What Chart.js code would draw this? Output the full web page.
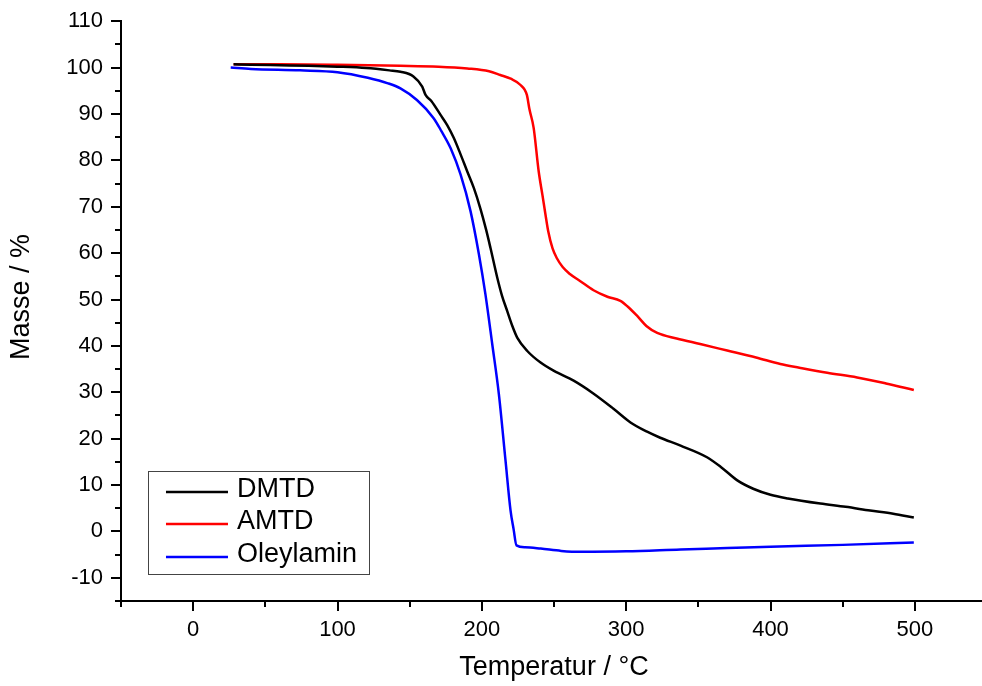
<!DOCTYPE html>
<html>
<head>
<meta charset="utf-8">
<script src="https://cdn.jsdelivr.net/npm/chart.js@4"></script>
<style>
  html, body { margin: 0; padding: 0; background: #fff; overflow: hidden; }
  #wrap { width: 993px; height: 686px; }
</style>
</head>
<body>
<div id="wrap"><canvas id="c" width="993" height="686"></canvas></div>
<script>
// ---- data ----
const seriesNames = ["DMTD", "AMTD", "Oleylamin"];
const seriesColors = ["#000000", "#ff0000", "#0000ff"];

const dmtdT = [28, 40, 60, 80, 100, 120, 136, 143.6, 152.6, 158.7, 161, 165, 171.4, 176, 180.6, 185, 189.9, 194.5, 199.1, 203, 206, 210.7, 214, 217.6, 221, 224.5, 231.5, 240.7, 250, 263.6, 277, 291, 303, 314.5, 323.6, 337.7, 356, 366, 377, 388, 400, 412, 434.5, 452, 469, 485, 499.3];
const dmtdM = [100.7, 100.6, 100.5, 100.4, 100.2, 99.9, 99.4, 99.1, 98.1, 95.9, 94.1, 92.8, 89.8, 87.6, 84.8, 81.5, 77.6, 74.0, 69.5, 65.0, 61.1, 54.7, 50.8, 47.5, 44.4, 41.8, 38.9, 36.4, 34.6, 32.5, 29.8, 26.5, 23.5, 21.5, 20.2, 18.5, 16, 13.8, 11, 9.2, 7.9, 7.1, 6.0, 5.3, 4.5, 3.8, 3.0];

const amtdT = [28, 60, 100, 143.6, 170, 190, 205, 212.8, 220, 226.6, 231.2, 233, 235.9, 239.4, 242, 244, 246, 249, 252, 256, 261, 268, 277.4, 287, 296, 301, 307.5, 314, 321.5, 335, 351.3, 370, 390, 406.8, 420, 439.3, 460, 480, 499.3];
const amtdM = [100.7, 100.7, 100.6, 100.4, 100.2, 99.8, 99.2, 98.4, 97.6, 96.3, 94.1, 91, 87.0, 77.6, 72.5, 68.5, 64.7, 61, 58.9, 57, 55.5, 54, 52, 50.6, 49.7, 48.5, 46.5, 44.3, 42.8, 41.6, 40.4, 39, 37.5, 36.1, 35.3, 34.2, 33.2, 31.9, 30.5];

const oleT = [26, 40, 74, 100, 121, 135, 143.6, 155, 166.6, 172, 178.4, 185.3, 192.2, 198, 202.5, 207.2, 211.8, 216.4, 219.9, 222, 224, 230, 240.8, 255, 268.5, 300, 337.7, 370, 400, 450, 499.3];
const oleM = [100, 99.7, 99.4, 99.0, 97.8, 96.6, 95.5, 93.0, 89.1, 86.3, 82.6, 76.9, 69.0, 59.7, 51.1, 40.4, 29.6, 15.3, 4.5, 0.5, -3.0, -3.4, -3.7, -4.2, -4.4, -4.3, -3.9, -3.6, -3.3, -2.9, -2.4];

const xTitle = "Temperatur / °C";
const yTitle = "Masse / %";
const xMin = -50, xMax = 550, xMinor = 50, xMajor = 100;
const yMin = -15, yMax = 110, yMinor = 5, yMajor = 10;

// ---- build ----
const FONT = "'Liberation Sans', Arial, Helvetica, sans-serif";
function pts(t, m) { return t.map((v, i) => ({ x: v, y: m[i] })); }
const allT = [dmtdT, amtdT, oleT];
const allM = [dmtdM, amtdM, oleM];

const datasets = seriesNames.map((n, i) => ({
  label: n,
  data: pts(allT[i], allM[i]),
  borderColor: seriesColors[i],
  backgroundColor: seriesColors[i],
  borderWidth: 2.5,
  pointRadius: 0,
  fill: false,
  cubicInterpolationMode: 'monotone'
}));

const extras = {
  id: 'extras',
  afterDraw(chart) {
    const ctx = chart.ctx;
    const xs = chart.scales.x, ys = chart.scales.y;
    const ca = chart.chartArea;
    ctx.save();
    ctx.strokeStyle = '#000';
    ctx.lineWidth = 2;
    // x ticks
    for (let v = xMin; v <= xMax + 1e-9; v += xMinor) {
      const px = Math.round(xs.getPixelForValue(v));
      const len = (v % xMajor === 0) ? 10 : 6;
      ctx.beginPath();
      ctx.moveTo(px, ca.bottom);
      ctx.lineTo(px, ca.bottom + len);
      ctx.stroke();
    }
    // y ticks
    for (let v = yMin; v <= yMax + 1e-9; v += yMinor) {
      const py = Math.round(ys.getPixelForValue(v));
      const len = (v % yMajor === 0) ? 10 : 6;
      ctx.beginPath();
      ctx.moveTo(ca.left, py);
      ctx.lineTo(ca.left - len, py);
      ctx.stroke();
    }
    // y title
    ctx.fillStyle = '#000';
    ctx.font = '27px ' + FONT;
    ctx.textAlign = 'center';
    ctx.textBaseline = 'middle';
    ctx.translate(22, 297);
    ctx.rotate(-Math.PI / 2);
    ctx.fillText(yTitle, 0, 0);
    ctx.restore();

    // legend (placed in data units of the axes)
    ctx.save();
    const lx = xs.getPixelForValue(-31.3), rx = xs.getPixelForValue(121.9);
    const ty = ys.getPixelForValue(13.1), by = ys.getPixelForValue(-9.0);
    ctx.strokeStyle = '#444';
    ctx.lineWidth = 1;
    ctx.strokeRect(Math.round(lx) + 0.5, Math.round(ty) + 0.5, Math.round(rx - lx), Math.round(by - ty));
    ctx.font = '27px ' + FONT;
    ctx.textAlign = 'left';
    ctx.textBaseline = 'middle';
    chart.data.datasets.forEach((d, i) => {
      const cy = Math.round(ty + 21 + i * 32.5);
      ctx.strokeStyle = d.borderColor;
      ctx.lineWidth = 2.5;
      ctx.beginPath();
      ctx.moveTo(lx + 18, cy);
      ctx.lineTo(lx + 80, cy);
      ctx.stroke();
      ctx.fillStyle = '#000';
      ctx.fillText(d.label, lx + 89, cy - 2);
    });
    ctx.restore();
  }
};

new Chart(document.getElementById('c'), {
  type: 'line',
  data: { datasets },
  plugins: [extras],
  options: {
    responsive: false,
    animation: false,
    events: [],
    layout: { padding: { top: 20, right: 1, left: 0, bottom: 0 } },
    plugins: { legend: { display: false }, tooltip: { enabled: false } },
    scales: {
      x: {
        type: 'linear',
        min: xMin, max: xMax,
        afterFit(s) { s.height = 85; },
        ticks: {
          stepSize: xMinor, autoSkip: false, maxRotation: 0, padding: 6,
          color: '#000', font: { family: FONT, size: 22 },
          callback: v => (v % xMajor === 0 ? String(v) : '')
        },
        grid: { drawOnChartArea: false, tickLength: 10, tickColor: 'rgba(0,0,0,0)' },
        border: { display: true, color: '#000', width: 2 },
        title: { display: true, text: xTitle, color: '#000', font: { family: FONT, size: 27 }, padding: { top: 0, bottom: 2 } }
      },
      y: {
        type: 'linear',
        min: yMin, max: yMax,
        afterFit(s) { s.width = 121; },
        ticks: {
          stepSize: yMinor, autoSkip: false, padding: 8,
          color: '#000', font: { family: FONT, size: 22 },
          callback: v => (v % yMajor === 0 ? String(v) : '')
        },
        grid: { drawOnChartArea: false, tickLength: 10, tickColor: 'rgba(0,0,0,0)' },
        border: { display: true, color: '#000', width: 2 }
      }
    }
  }
});
</script>
</body>
</html>
